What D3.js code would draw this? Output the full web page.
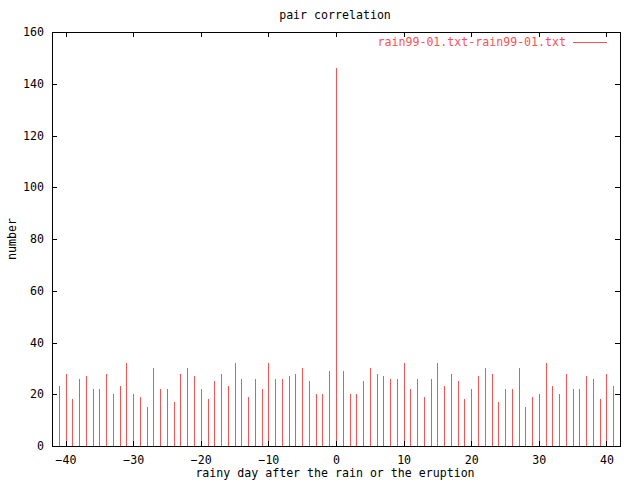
<!DOCTYPE html>
<html>
<head>
<meta charset="utf-8">
<script src="https://cdn.jsdelivr.net/npm/d3@7"></script>
<style>
  body { margin: 0; background: #fff; }
  text { font-family: "DejaVu Sans Mono", monospace; font-size: 11.6px; }
</style>
</head>
<body>
<div id="chart"></div>
<script>
// day offsets and counts (pair correlation)
const days = d3.range(-42, 43);
const counts = [
  20, 23, 28, 18, 26, 27, 22, 22, 28, 20, 23, 32, 20, 19, 15, 30, 22, 22, 17, 28, 30, 27, 22, 18, 25, 28, 23,
  32, 26, 19, 26, 22, 32, 26, 26, 27, 28, 30, 25, 20, 20, 29,
  146,
  29, 20, 20, 25, 30, 28, 27, 26, 26, 32, 22, 26,
  19, 26, 32, 23, 28, 25, 18, 22, 27, 30, 28, 17, 22, 22, 30, 15, 19, 20, 32, 23, 20, 28, 22, 22, 27, 26, 18, 28, 23, 20
];
const xTicks = [-40, -30, -20, -10, 0, 10, 20, 30, 40];
const yTicks = [0, 20, 40, 60, 80, 100, 120, 140, 160];
const seriesName = "rain99-01.txt-rain99-01.txt";

const W = 640, H = 480;
const margin = {top: 32, left: 52, right: 20, bottom: 34};

let svg = d3.select("#chart")
  .append("svg")
    .attr("width", W)
    .attr("height", H);

let x = d3.scaleLinear().domain([-42, 42]).range([margin.left, W - margin.right]);
let y = d3.scaleLinear().domain([0, 160]).range([H - margin.bottom, margin.top]);

const red = "#ff5050";
const font = "DejaVu Sans Mono, monospace";

// impulses
svg.append("g")
  .selectAll("line")
  .data(days.map((d, i) => ({day: d, n: counts[i]})))
  .enter()
  .append("line")
    .attr("x1", d => Math.round(x(d.day)) + 0.5)
    .attr("x2", d => Math.round(x(d.day)) + 0.5)
    .attr("y1", y(0))
    .attr("y2", d => y(d.n))
    .attr("stroke", red)
    .attr("stroke-width", 1)
    .attr("shape-rendering", "crispEdges");

// axes with gnuplot-like inward ticks
let axisG = svg.append("g").attr("shape-rendering", "crispEdges");
axisG.append("g")
  .attr("transform", "translate(0," + y(0) + ")")
  .call(d3.axisBottom(x).tickValues(xTicks).tickSize(-5).tickPadding(10).tickFormat(d3.format("d")));
axisG.append("g")
  .attr("transform", "translate(0," + y(160) + ")")
  .call(d3.axisTop(x).tickValues(xTicks).tickSize(-5).tickFormat(""));
axisG.append("g")
  .attr("transform", "translate(" + x(-42) + ",0)")
  .call(d3.axisLeft(y).tickValues(yTicks).tickSize(-5).tickPadding(8).tickFormat(d3.format("d")));
axisG.append("g")
  .attr("transform", "translate(" + x(42) + ",0)")
  .call(d3.axisRight(y).tickValues(yTicks).tickSize(-5).tickFormat(""));

axisG.selectAll(".domain").attr("stroke", "#000");
axisG.selectAll(".tick line").attr("stroke", "#000");
axisG.selectAll("text").attr("fill", "#000").style("font-family", font).style("font-size", "11.6px");

// title and labels
svg.append("text")
  .attr("x", 335).attr("y", 19)
  .attr("text-anchor", "middle")
  .text("pair correlation");

svg.append("text")
  .attr("x", 335).attr("y", 477)
  .attr("text-anchor", "middle")
  .text("rainy day after the rain or the eruption");

svg.append("text")
  .attr("transform", "translate(16,239) rotate(-90)")
  .attr("text-anchor", "middle")
  .text("number");

// legend
let legend = svg.append("g").attr("class", "legend");
legend.append("text")
  .attr("x", 566).attr("y", 46)
  .attr("text-anchor", "end")
  .attr("fill", red)
  .text(seriesName);
legend.append("line")
  .attr("x1", 573).attr("x2", 607)
  .attr("y1", 42.5).attr("y2", 42.5)
  .attr("stroke", red);
</script>
</body>
</html>
